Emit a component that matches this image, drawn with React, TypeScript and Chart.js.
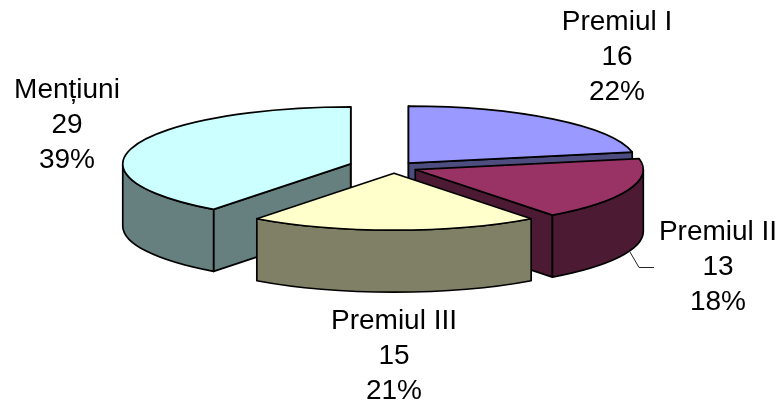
import React, { useEffect, useRef } from "react";
import { Chart, registerables } from "chart.js";

Chart.register(...registerables);

const categories = ["Premiul I", "Premiul II", "Premiul III", "Mențiuni"];
const values = [16, 13, 15, 29];
const percents = ["22%", "18%", "21%", "39%"];
const explosionPct = [10, 10, 10, 20];
const topColors = ["#9999ff", "#993366", "#ffffcc", "#ccffff"];
const sideColors = ["#4d4d80", "#4d1a33", "#808066", "#668080"];
const paintOrder = [3, 0, 1, 2];

const RX = 228;
const RY = 57;
const DEPTH = 62;
const labelAnchors = [
  [617, 22],
  [718, 232],
  [394, 321],
  [67, 90],
];
const LINE_H = 35;
const FONT = '28px "Liberation Sans", Arial, sans-serif';

const pie3d = {
  id: "pie3d",
  beforeDatasetsDraw(chart: any) {
    const ctx = chart.ctx as CanvasRenderingContext2D;
    const arcs = chart.getDatasetMeta(0).data;
    ctx.save();
    ctx.lineWidth = 1.7;
    ctx.lineJoin = "round";
    ctx.strokeStyle = "#000";
    for (const i of paintOrder) {
      const arc = arcs[i];
      const { x, y, startAngle: s, endAngle: e } = arc.getProps(["x", "y", "startAngle", "endAngle"], true);
      const mid = (s + e) / 2;
      const frac = arc.options.offset / 100;
      const cx = x + Math.cos(mid) * RX * frac;
      const cy = y + Math.sin(mid) * RY * frac;
      const pt = (t: number, dz = 0): [number, number] => [cx + Math.cos(t) * RX, cy + Math.sin(t) * RY + dz];
      const shape = (draw: () => void, fill: string) => {
        ctx.beginPath();
        draw();
        ctx.closePath();
        ctx.fillStyle = fill;
        ctx.fill();
        ctx.stroke();
      };
      const wall = (t: number) => {
        const p = pt(t);
        shape(() => {
          ctx.moveTo(cx, cy);
          ctx.lineTo(p[0], p[1]);
          ctx.lineTo(p[0], p[1] + DEPTH);
          ctx.lineTo(cx, cy + DEPTH);
        }, sideColors[i]);
      };
      // radial walls that face the viewer (angles measured from 3 o'clock)
      const eps = 1e-6;
      if (Math.cos(s) < eps) wall(s);
      if (Math.cos(e) > -eps) wall(e);
      // curved outer wall: the front half of the rim only
      const a0 = s < 0 ? 0 : s;
      const a1 = Math.min(e, Math.PI);
      if (a1 > a0 && e > 0) {
        shape(() => {
          ctx.ellipse(cx, cy, RX, RY, 0, a0, a1);
          ctx.ellipse(cx, cy + DEPTH, RX, RY, 0, a1, a0, true);
        }, sideColors[i]);
      }
      // top face
      shape(() => {
        ctx.moveTo(cx, cy);
        ctx.ellipse(cx, cy, RX, RY, 0, s, e);
      }, topColors[i]);
    }
    ctx.restore();
    return false;
  },
  afterDraw(chart: any) {
    const ctx = chart.ctx as CanvasRenderingContext2D;
    ctx.save();
    ctx.strokeStyle = "#222";
    ctx.lineWidth = 1;
    ctx.beginPath();
    ctx.moveTo(630, 252);
    ctx.lineTo(639, 267.5);
    ctx.lineTo(654, 267.5);
    ctx.stroke();
    ctx.fillStyle = "#000";
    ctx.font = FONT;
    ctx.textAlign = "center";
    ctx.textBaseline = "middle";
    categories.forEach((name, i) => {
      const [lx, ly] = labelAnchors[i];
      [name, String(values[i]), percents[i]].forEach((t, k) => ctx.fillText(t, lx, ly + k * LINE_H));
    });
    ctx.restore();
  },
};

export default function App() {
  const ref = useRef<HTMLCanvasElement>(null);
  useEffect(() => {
    document.body.style.margin = "0";
    const chart = new Chart(ref.current!, {
      type: "pie",
      data: {
        labels: categories,
        datasets: [{ data: values, backgroundColor: topColors, offset: explosionPct, borderWidth: 0 }],
      },
      options: {
        responsive: false,
        animation: false,
        rotation: 0,
        layout: { padding: { left: 9, right: 0, top: 0, bottom: 69 } },
        plugins: { legend: { display: false }, tooltip: { enabled: false } },
        events: [],
      },
      plugins: [pie3d],
    } as any);
    return () => chart.destroy();
  }, []);
  return <canvas ref={ref} width={779} height={404} style={{ display: "block", background: "#fff" }} />;
}
